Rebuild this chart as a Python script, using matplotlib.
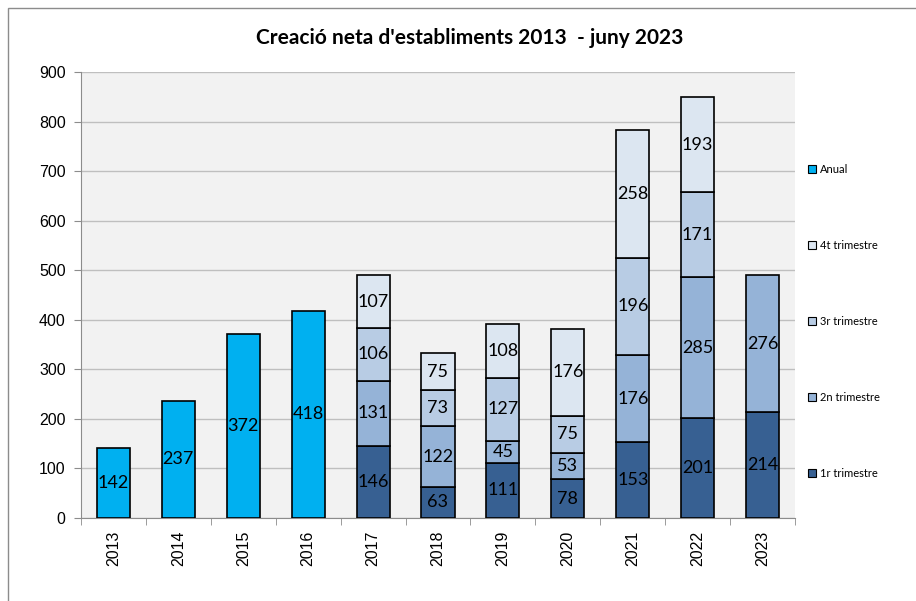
import numpy as np
import matplotlib.pyplot as plt
from matplotlib.patches import Rectangle

years = ['2013', '2014', '2015', '2016', '2017', '2018', '2019', '2020', '2021', '2022', '2023']
anual = [142, 237, 372, 418]
q1 = [146, 63, 111, 78, 153, 201, 214]
q2 = [131, 122, 45, 53, 176, 285, 276]
q3 = [106, 73, 127, 75, 196, 171, 0]
q4 = [107, 75, 108, 176, 258, 193, 0]

c_anual = '#00B0F0'
c_q1 = '#376092'
c_q2 = '#95B3D7'
c_q3 = '#B8CCE4'
c_q4 = '#DCE6F1'

fig = plt.figure(figsize=(9.16, 6.01), dpi=100)
fig.patches.append(Rectangle((8 / 916, -0.1), 1.2, 1 - 8 / 601 + 0.1, transform=fig.transFigure,
                             fill=False, edgecolor='#8c8c8c', linewidth=1.0))
ax = fig.add_axes([81 / 916, 1 - 518 / 601, (795 - 81) / 916, (518 - 72) / 601])
ax.set_facecolor('#F2F2F2')

x = np.arange(len(years))
xa = x[:len(anual)]
xq = x[len(anual):]
w = 0.51
kw = dict(width=w, edgecolor='black', linewidth=1.2, zorder=3)

b_an = ax.bar(xa, anual, color=c_anual, label='Anual', **kw)
q1 = np.array(q1)
q2 = np.array(q2)
q3 = np.array(q3)
q4 = np.array(q4)
b1 = ax.bar(xq, q1, color=c_q1, label='1r trimestre', **kw)
b2 = ax.bar(xq, q2, bottom=q1, color=c_q2, label='2n trimestre', **kw)
mask = q3 > 0
b3 = ax.bar(xq[mask], q3[mask], bottom=(q1 + q2)[mask], color=c_q3, label='3r trimestre', **kw)
b4 = ax.bar(xq[mask], q4[mask], bottom=(q1 + q2 + q3)[mask], color=c_q4, label='4t trimestre', **kw)

lab_font = dict(fontsize=13, family='Lato')
for cont in [b_an, b1, b2, b3, b4]:
    ax.bar_label(cont, label_type='center', color='black', **lab_font)

ax.set_ylim(0, 900)
ax.set_xlim(-0.5, len(years) - 0.5)
ax.set_yticks(range(0, 901, 100))
ax.yaxis.grid(True, color='#BFBFBF', linewidth=1.0, zorder=0)
ax.set_axisbelow(True)
for s in ['top', 'right']:
    ax.spines[s].set_visible(False)
for s in ['left', 'bottom']:
    ax.spines[s].set_color('#8c8c8c')
ax.set_xticks(x)
ax.set_xticklabels(years, rotation=90, fontsize=11.5, family='Liberation Sans')
ax.tick_params(axis='x', length=0, pad=9)
ax.set_xticks(np.arange(-0.5, len(years), 1), minor=True)
ax.tick_params(axis='x', which='minor', length=5, color='#8c8c8c')
ax.tick_params(axis='y', length=5, color='#8c8c8c', labelsize=11.5, pad=6)
for t in ax.get_yticklabels():
    t.set_family('Liberation Sans')

fig.text(470 / 916, 1 - 38 / 601, "Creació neta d'establiments 2013  - juny 2023",
         ha='center', va='center', fontsize=15, fontweight='bold', family='Lato')

handles = [b_an, b4, b3, b2, b1]
labels = ['Anual', '4t trimestre', '3r trimestre', '2n trimestre', '1r trimestre']
leg = fig.legend(handles, labels, loc='upper left', bbox_to_anchor=(798 / 916, 1 - 154 / 601),
                 frameon=False, prop={'family': 'Lato', 'size': 8},
                 handlelength=0.7, handleheight=0.7, handletextpad=0.4, labelspacing=5.85)
for h in leg.legend_handles:
    h.set_linewidth(0.8)

fig.savefig('out.png', dpi=100)
